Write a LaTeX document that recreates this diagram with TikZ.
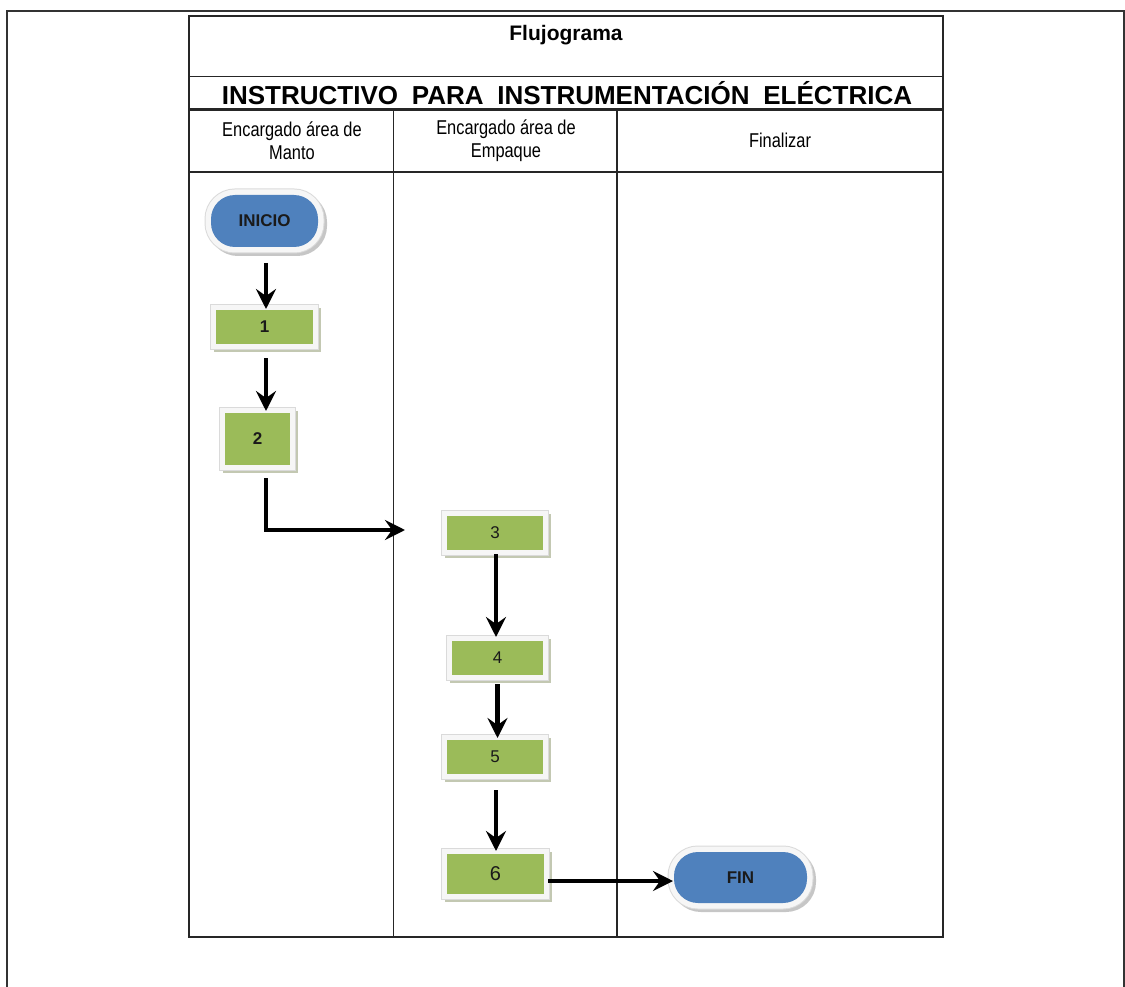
\documentclass[tikz,border=0pt]{standalone}
\usepackage{fontspec}
\setmainfont{Liberation Sans}
\newfontfamily\narrowfont[FakeStretch=0.82]{Liberation Sans}
\usetikzlibrary{arrows.meta}
\definecolor{boxgreen}{HTML}{9BBB59}
\definecolor{pillblue}{HTML}{4F81BD}
\definecolor{framec}{HTML}{F6F6F6}
\definecolor{frameedge}{HTML}{DADADA}
\definecolor{shadowg}{HTML}{C3C8B2}
\definecolor{shadowb}{HTML}{C6C6C6}
\definecolor{txtc}{HTML}{1A1A1A}
\begin{document}
\begin{tikzpicture}[x=1pt,y=-1pt,
  thin line/.style={line width=1.6pt, black!85},
  arr/.style={line width=4.2pt, black, -{Stealth[length=20pt,width=20pt,inset=7pt]}},
  stepbox/.style={fill=boxgreen, inner sep=0pt, outer sep=0pt, text=txtc,
     font=\fontsize{17}{17}\selectfont,
     preaction={fill=shadowg, draw=shadowg, line width=10pt, transform canvas={shift={(3pt,-3pt)}}},
     preaction={draw=frameedge, line width=12pt},
     preaction={draw=framec, line width=10pt}},
  pill/.style={fill=pillblue, inner sep=0pt, outer sep=0pt, text=txtc,
     font=\fontsize{17}{17}\selectfont\bfseries, rounded corners=24pt,
     preaction={fill=shadowb, draw=shadowb, line width=12pt, transform canvas={shift={(3pt,-3pt)}}},
     preaction={draw=frameedge, line width=13pt},
     preaction={draw=framec, line width=11pt}}
]
\useasboundingbox (0,0) rectangle (1125,987);
% page frame
\draw[line width=2pt, black!80] (7.3,990) -- (7.3,11) -- (1124,11) -- (1124,990);
% table
\draw[line width=2pt, black!85] (189,16) rectangle (943,937);
\draw[thin line] (189,76.5) -- (943,76.5);
\draw[line width=3pt, black!85] (189,110) -- (943,110);
\draw[thin line] (189,172) -- (943,172);
\draw[thin line] (393.3,110) -- (393.3,937);
\draw[thin line] (616.7,110) -- (616.7,937);
% texts
\node[font=\fontsize{21}{21}\selectfont\bfseries] (ttl) at (566,35) {Flujograma};
\node[font=\fontsize{26}{26}\selectfont\bfseries] (sub) at (567,93) {INSTRUCTIVO\hspace{6.5pt} PARA\hspace{6.5pt} INSTRUMENTACIÓN\hspace{6.5pt} ELÉCTRICA};
\node[align=center, font=\narrowfont\fontsize{20}{23}\selectfont] (h1) at (292,141) {Encargado área de\\Manto};
\node[align=center, font=\narrowfont\fontsize{20}{23}\selectfont] (h2) at (506,141) {Encargado área de\\Empaque};
\node[font=\narrowfont\fontsize{20}{23}\selectfont] (h3) at (780,140) {Finalizar};
% flow nodes
\node[pill, minimum width=107pt, minimum height=52pt] (a0) at (264.5,221) {INICIO};
\node[stepbox, minimum width=97pt, minimum height=34pt, font=\fontsize{17}{17}\selectfont\bfseries] (a1) at (264.5,327) {1};
\node[stepbox, minimum width=65pt, minimum height=52pt, font=\fontsize{17}{17}\selectfont\bfseries] (a2) at (257.5,439) {2};
\node[stepbox, minimum width=96pt, minimum height=34pt] (a3) at (495,533) {3};
\node[stepbox, minimum width=91pt, minimum height=34pt] (a4) at (497.5,658) {4};
\node[stepbox, minimum width=96pt, minimum height=34pt] (a5) at (495,757) {5};
\node[stepbox, minimum width=97pt, minimum height=40pt, font=\fontsize{20}{20}\selectfont] (a6) at (495.5,874) {6};
\node[pill, minimum width=133pt, minimum height=51pt] (fin) at (740.5,877.5) {FIN};
\coordinate (c) at (405,530);
% connectors
\draw[arr, shorten <=16pt, shorten >=1pt] ([xshift=1.5pt]a0.south) -- ([xshift=1.5pt]a0.south |- a1.north);
\draw[arr, shorten <=14pt, shorten >=2pt] ([xshift=1.5pt]a1.south) -- ([xshift=1.5pt]a1.south |- a2.north);
\draw[arr, shorten <=13pt] ([xshift=8.5pt]a2.south) |- (c);
\draw[arr, shorten <=4pt, shorten >=4pt] ([xshift=1pt]a3.south) -- ([xshift=1pt]a3.south |- a4.north);
\draw[arr, shorten <=9pt, shorten >=2pt] (a4.south) -- (a4.south |- a5.north);
\draw[arr, shorten <=16pt, shorten >=3pt] ([xshift=1pt]a5.south) -- ([xshift=1pt]a5.south |- a6.north);
\draw[arr, shorten <=4pt, shorten >=1pt] ([yshift=-7pt]a6.east) -- ([yshift=-7pt]a6.east -| fin.west);
\end{tikzpicture}
\end{document}
